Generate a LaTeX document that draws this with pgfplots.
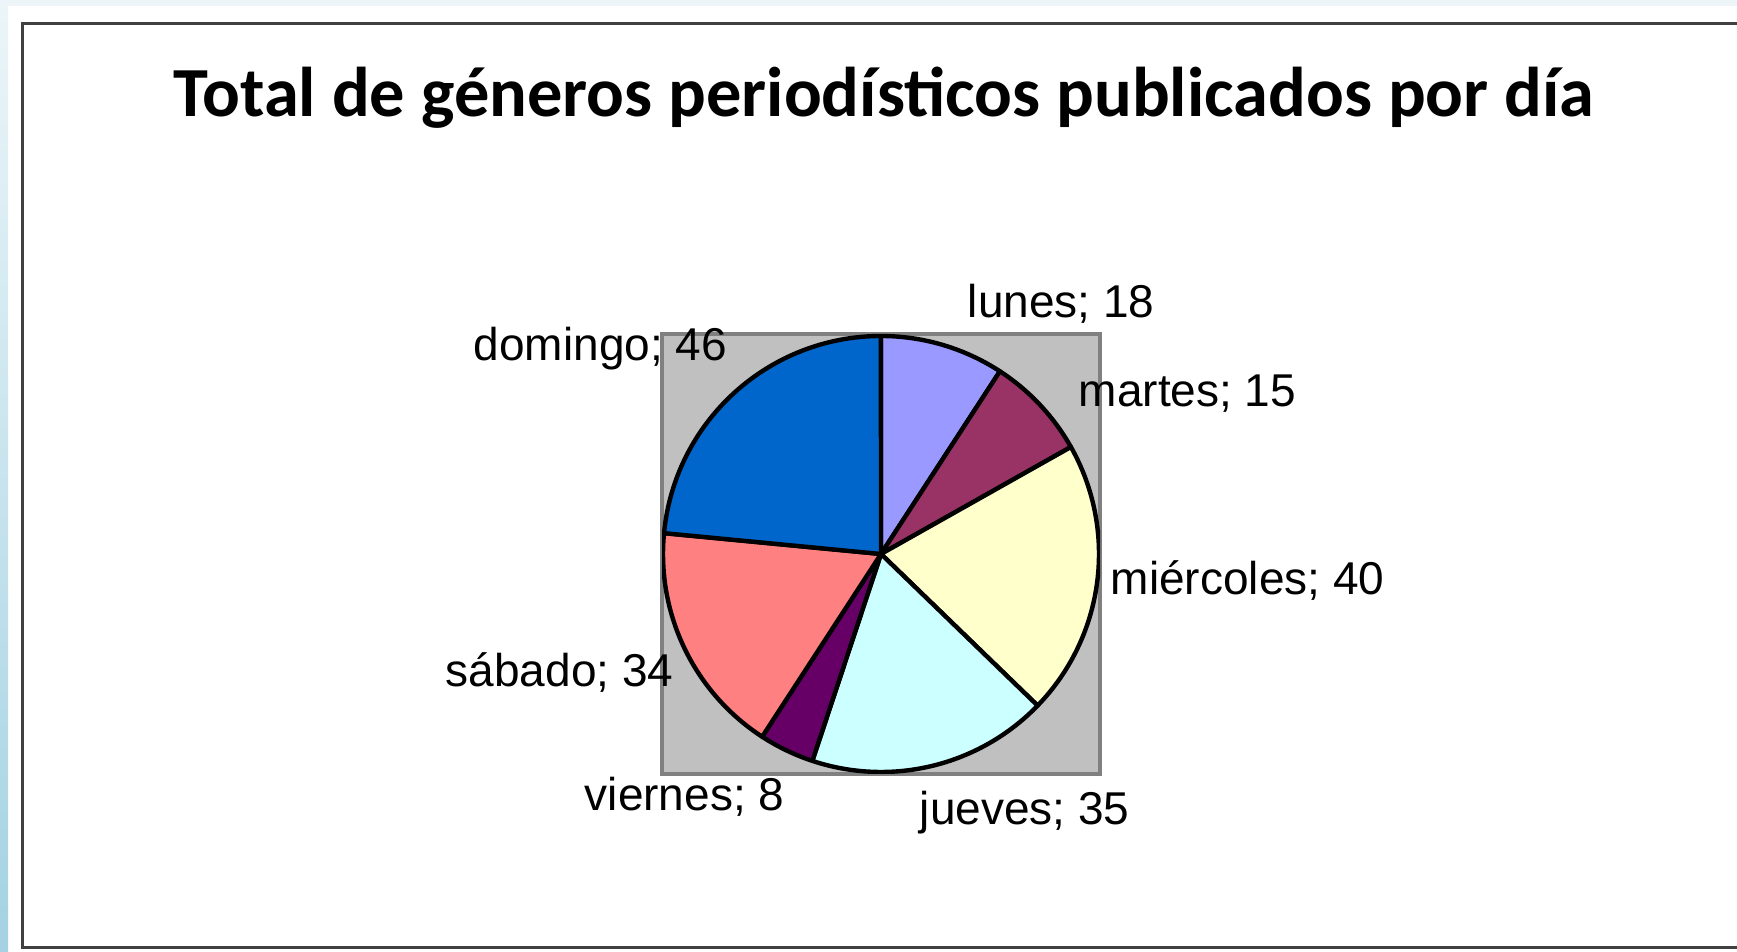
\documentclass[border=0pt]{standalone}
\usepackage{fontspec}
\setmainfont{Liberation Sans}
\newfontfamily\titlefont{Carlito}
\usepackage{pgfplots}
\pgfplotsset{compat=1.18}

\definecolor{clunes}{HTML}{9999FF}
\definecolor{cmartes}{HTML}{993366}
\definecolor{cmierc}{HTML}{FFFFCC}
\definecolor{cjueves}{HTML}{CCFFFF}
\definecolor{cviernes}{HTML}{660066}
\definecolor{csabado}{HTML}{FF8080}
\definecolor{cdomingo}{HTML}{0066CC}
\definecolor{plotbg}{HTML}{C0C0C0}
\definecolor{plotedge}{HTML}{808080}
\definecolor{marco}{HTML}{404040}
\definecolor{fondo}{HTML}{EEF5F8}
\definecolor{franjaA}{HTML}{ECF5F9}
\definecolor{franjaB}{HTML}{A4D2E2}

\tikzset{
  etiq/.style = {anchor=base west, inner sep=0pt,
                 font=\fontsize{11.5}{13}\selectfont},
}

\begin{document}
\begin{tikzpicture}[x=0.25pt, y=0.25pt]
% picture is 1737 x 952 units (1 unit = 0.25pt), y counted from the bottom
\path[use as bounding box] (0,0) rectangle (1737,952);
\clip (0,0) rectangle (1737,952);
\fill[white] (0,0) rectangle (1737,952);
\fill[fondo] (0,946) rectangle (1737,952);
\shade[top color=franjaA, bottom color=franjaB] (0,0) rectangle (8,952);
\draw[marco, line width=0.75pt] (1745,928) -- (22,928) -- (22,4) -- (1745,4);

\node[anchor=base, inner sep=0pt,
      font=\titlefont\bfseries\fontsize{17.6}{20}\selectfont] at (884,835)
  {Total de géneros periodísticos publicados por día};

\begin{axis}[
  at={(220.25pt,99.5pt)}, anchor=center,
  width=109.5pt, height=110pt, scale only axis,
  xmin=-1, xmax=1, ymin=-1, ymax=1,
  ticks=none,
  axis background/.style={fill=plotbg},
  axis line style={draw=plotedge, line width=1pt},
]
\def\total{196}
\xdef\ang{90}
\foreach \v/\c in {18/clunes, 15/cmartes, 40/cmierc, 35/cjueves,
                   8/cviernes, 34/csabado, 46/cdomingo}{
  \pgfmathsetmacro{\fin}{\ang - \v/\total*360}
  \edef\cuna{\noexpand\filldraw[fill=\c, draw=black, line width=1.1pt,
      line join=round]
    (axis cs:0,0) -- ++(\ang:54.5pt)
    arc[start angle=\ang, end angle=\fin, radius=54.5pt] -- cycle;}
  \cuna
  \xdef\ang{\fin}
}
\end{axis}

% data labels
\node[etiq] at (967,634)  {lunes; 18};
\node[etiq] at (1078,545) {martes; 15};
\node[etiq] at (1110,357) {miércoles; 40};
\node[etiq] at (919,127)  {jueves; 35};
\node[etiq] at (584,141)  {viernes; 8};
\node[etiq] at (445,265)  {sábado; 34};
\node[etiq] at (473,591)  {domingo; 46};
\end{tikzpicture}
\end{document}
